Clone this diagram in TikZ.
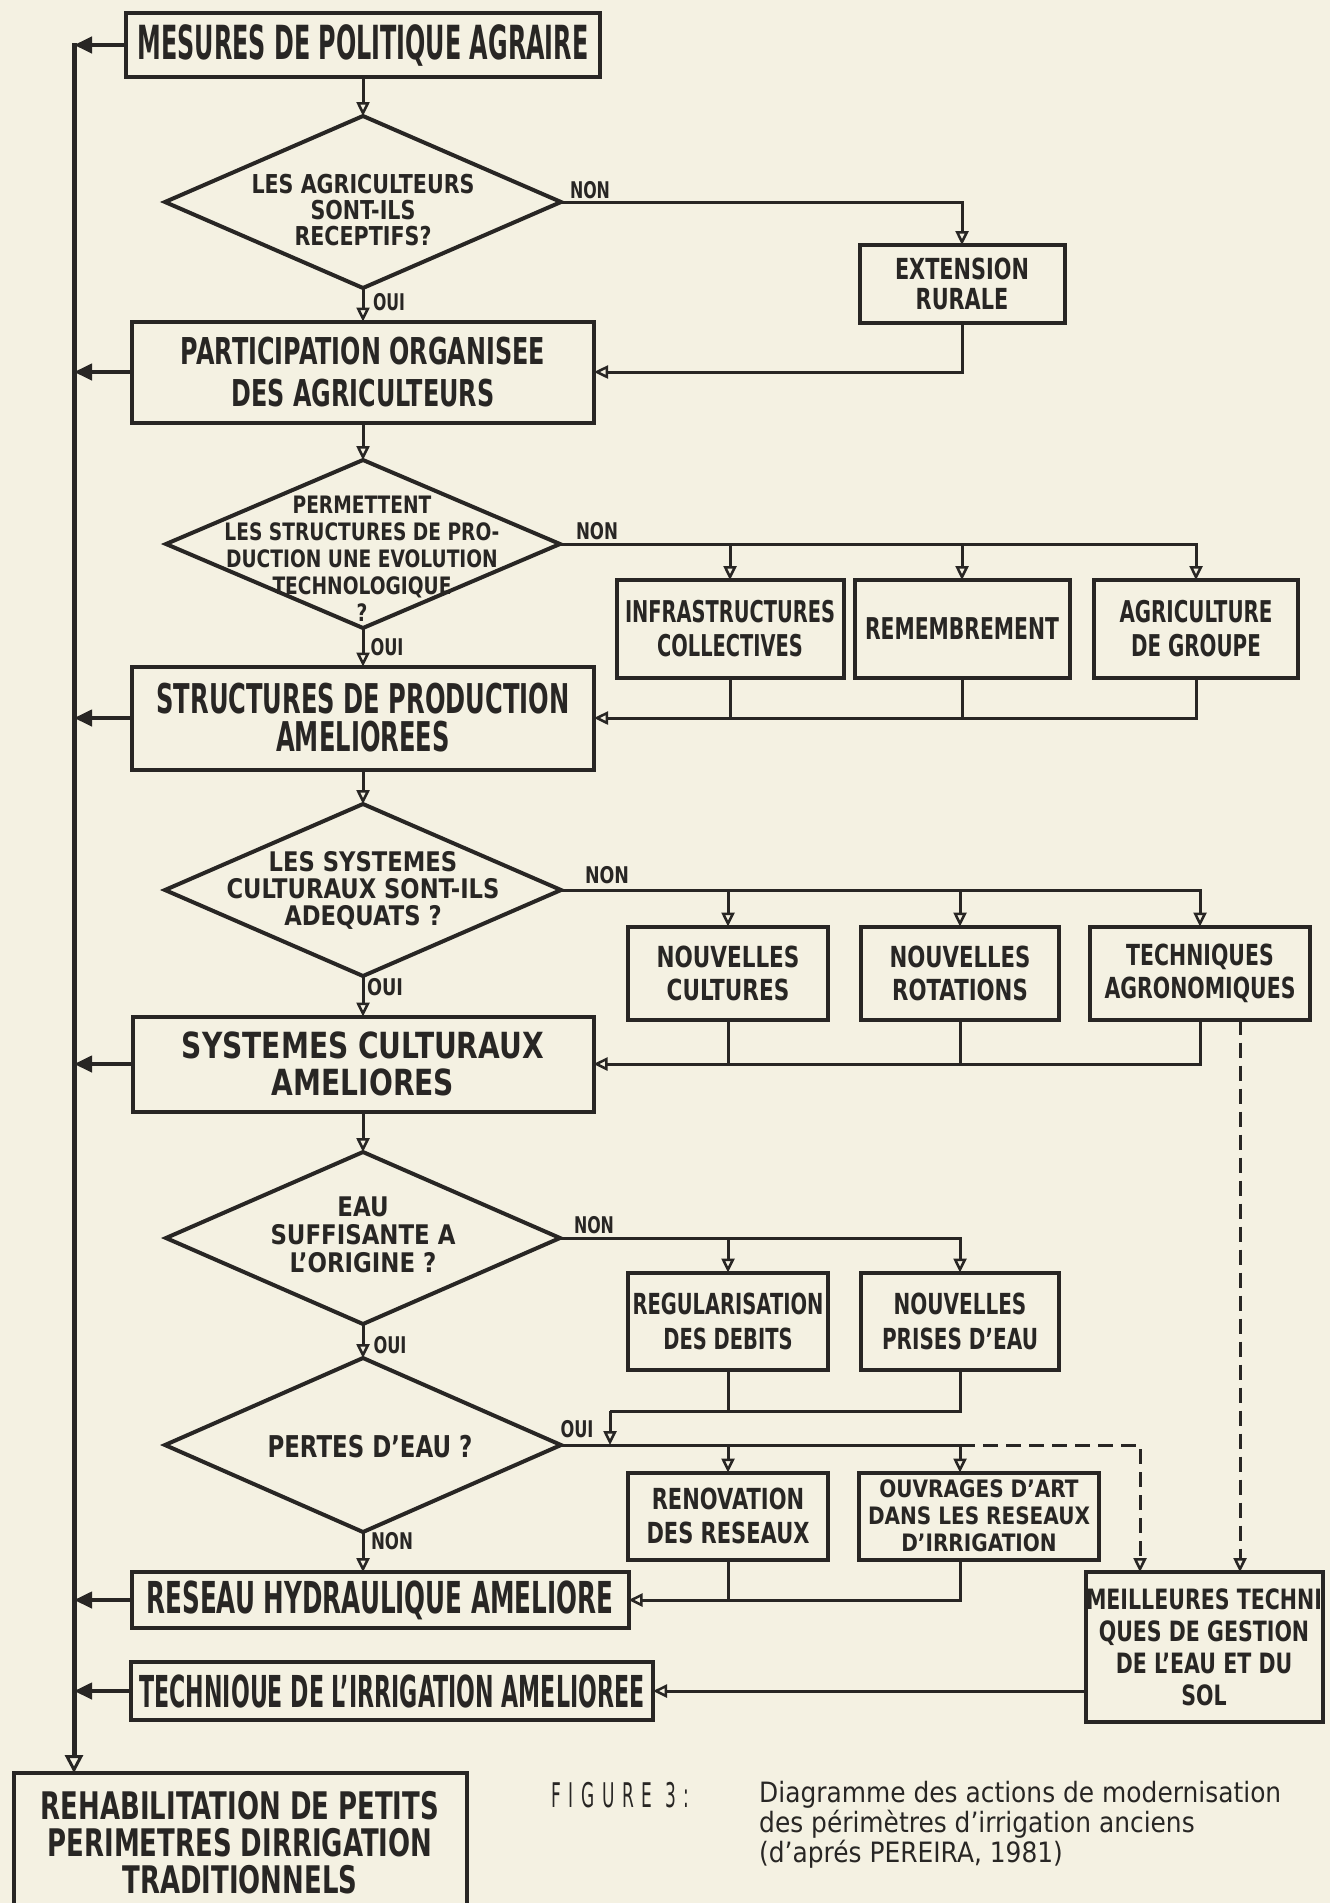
\documentclass[tikz,border=0pt]{standalone}
\usepackage{fontspec}
\setmainfont{DejaVu Sans}
\usepackage{graphicx}
\usetikzlibrary{shapes.geometric,arrows.meta}
\definecolor{paper}{RGB}{244,241,226}
\definecolor{ink}{RGB}{40,38,36}
% width, size, baselineskip, lines (centred, bold caps)
\newcommand\txl[4]{\resizebox{#1pt}{\height}{\fontsize{#2}{#3}\selectfont\bfseries\vbox{\lineskiplimit=-100pt\halign{\hfil##\hfil\cr#4\crcr}}}}
% caption lines (left aligned, regular)
\newcommand\capl[4]{\resizebox{#1pt}{\height}{\fontsize{#2}{#3}\selectfont\vbox{\lineskiplimit=-100pt\halign{##\hfil\cr#4\crcr}}}}
\tikzset{
  box/.style={rectangle, draw=ink, line width=4pt, inner sep=0pt, outer sep=0pt, text=ink},
  dia/.style={diamond, draw=ink, line width=4pt, inner sep=0pt, outer sep=0pt},
  dtxt/.style={inner sep=0pt, text=ink},
  lbl/.style={inner sep=0pt, text=ink},
  conn/.style={draw=ink, line width=3pt},
  arr/.style={conn, -{Triangle[open, length=14pt, width=13pt, line width=2.5pt]}},
  larr/.style={draw=ink, line width=4pt, -{Triangle[length=18pt, width=16pt]}},
  dconn/.style={conn, dash pattern=on 15pt off 8pt},
  darr/.style={dconn, -{Triangle[open, length=14pt, width=13pt, line width=2.5pt]}},
  mainl/.style={draw=ink, line width=5pt, -{Triangle[open, length=18pt, width=18pt, line width=3pt]}},
}
\begin{document}
\begin{tikzpicture}[x=1pt, y=-1pt]
\useasboundingbox (0,0) rectangle (1330,1903);
\clip (0,0) rectangle (1330,1903);
\fill[paper] (0,0) rectangle (1330,1903);

% main column
\node[box, minimum width=474pt, minimum height=64pt] (mes) at (363,45) {\txl{451}{47}{50}{MESURES DE POLITIQUE AGRAIRE}};
\node[dia, minimum width=396pt, minimum height=172pt] (d1) at (363,202) {};
\node[dtxt] (d1t) at (363,210) {\txl{223}{26}{26}{LES AGRICULTEURS\cr SONT-ILS\cr RECEPTIFS?}};
\node[box, minimum width=462pt, minimum height=101pt] (part) at (363,372) {\txl{364}{37}{42}{PARTICIPATION ORGANISEE\cr DES AGRICULTEURS}};
\node[dia, minimum width=394pt, minimum height=168pt] (d2) at (363,544) {};
\node[dtxt] (d2t) at (362,559) {\txl{275}{24}{27}{PERMETTENT\cr LES STRUCTURES DE PRO-\cr DUCTION UNE EVOLUTION\cr TECHNOLOGIQUE\cr ?}};
\node[box, minimum width=462pt, minimum height=103pt] (struct) at (363,718) {\txl{413}{41}{38}{STRUCTURES DE PRODUCTION\cr AMELIOREES}};
\node[dia, minimum width=396pt, minimum height=172pt] (d3) at (363,890) {};
\node[dtxt] (d3t) at (363,890) {\txl{273}{27}{27}{LES SYSTEMES\cr CULTURAUX SONT-ILS\cr ADEQUATS ?}};
\node[box, minimum width=461pt, minimum height=95pt] (sysc) at (363,1064) {\txl{362}{36}{37}{SYSTEMES CULTURAUX\cr AMELIORES}};
\node[dia, minimum width=394pt, minimum height=172pt] (d4) at (363,1238) {};
\node[dtxt] (d4t) at (363,1235) {\txl{185}{27}{28}{EAU\cr SUFFISANTE A\cr L'ORIGINE ?}};
\node[dia, minimum width=396pt, minimum height=174pt] (d5) at (363,1445) {};
\node[dtxt] (d5t) at (370,1447) {\txl{205}{30}{30}{PERTES D'EAU ?}};
\node[box, minimum width=497pt, minimum height=56pt] (reseau) at (380,1600) {\txl{467}{44}{44}{RESEAU HYDRAULIQUE AMELIORE}};
\node[box, minimum width=522pt, minimum height=58pt] (techirr) at (392,1691) {\txl{505}{44}{44}{TECHNIOUE DE L'IRRIGATION AMELIOREE}};
\node[box, minimum width=453pt, minimum height=140pt] (rehab) at (240,1843) {\txl{398}{38}{37}{REHABILITATION DE PETITS\cr PERIMETRES DIRRIGATION\cr TRADITIONNELS}};

% right side boxes
\node[box, minimum width=205pt, minimum height=78pt] (ext) at (962,284) {\txl{134}{29}{30}{EXTENSION\cr RURALE}};
\node[box, minimum width=227pt, minimum height=98pt] (infra) at (730,629) {\txl{210}{30}{34}{INFRASTRUCTURES\cr COLLECTIVES}};
\node[box, minimum width=215pt, minimum height=98pt] (remem) at (962,629) {\txl{194}{30}{30}{REMEMBREMENT}};
\node[box, minimum width=204pt, minimum height=98pt] (agri) at (1196,629) {\txl{153}{30}{34}{AGRICULTURE\cr DE GROUPE}};
\node[box, minimum width=200pt, minimum height=93pt] (ncult) at (728,973) {\txl{143}{29}{33}{NOUVELLES\cr CULTURES}};
\node[box, minimum width=198pt, minimum height=93pt] (nrot) at (960,973) {\txl{141}{29}{33}{NOUVELLES\cr ROTATIONS}};
\node[box, minimum width=220pt, minimum height=93pt] (techag) at (1200,973) {\txl{191}{29}{33}{TECHNIQUES\cr AGRONOMIQUES}};
\node[box, minimum width=200pt, minimum height=97pt] (reg) at (728,1321) {\txl{191}{29}{35}{REGULARISATION\cr DES DEBITS}};
\node[box, minimum width=198pt, minimum height=97pt] (npe) at (960,1321) {\txl{156}{29}{35}{NOUVELLES\cr PRISES D'EAU}};
\node[box, minimum width=200pt, minimum height=87pt] (renov) at (728,1516) {\txl{163}{29}{34}{RENOVATION\cr DES RESEAUX}};
\node[box, minimum width=240pt, minimum height=87pt] (ouvr) at (979,1516) {\txl{222}{24}{27}{OUVRAGES D'ART\cr DANS LES RESEAUX\cr D'IRRIGATION}};
\node[box, minimum width=237pt, minimum height=150pt] (meill) at (1204,1647) {\txl{236}{28}{32}{MEILLEURES TECHNI\cr QUES DE GESTION\cr DE L'EAU ET DU\cr SOL}};

% labels
\node[lbl] (n1) at (590,190) {\txl{40}{23}{23}{NON}};
\node[lbl] (o1) at (389,302) {\txl{32}{23}{23}{OUI}};
\node[lbl] (n2) at (597,531) {\txl{42}{23}{23}{NON}};
\node[lbl] (o2) at (387,647) {\txl{33}{23}{23}{OUI}};
\node[lbl] (n3) at (607,875) {\txl{44}{23}{23}{NON}};
\node[lbl] (o3) at (385,987) {\txl{36}{23}{23}{OUI}};
\node[lbl] (n4) at (594,1225) {\txl{40}{23}{23}{NON}};
\node[lbl] (o4) at (390,1345) {\txl{33}{23}{23}{OUI}};
\node[lbl] (o5) at (577,1429) {\txl{33}{23}{23}{OUI}};
\node[lbl] (n5) at (392,1541) {\txl{42}{23}{23}{NON}};

% caption
\node[anchor=west, inner sep=0pt, text=ink] (fig) at (551,1795) {\scalebox{0.5}[1]{\fontsize{34}{34}\selectfont\addfontfeature{LetterSpace=45}FIGURE 3:}};
\node[anchor=north west, inner sep=0pt, text=ink] (cap) at (759,1781) {\capl{522}{28}{30}{Diagramme des actions de modernisation\cr des périmètres d'irrigation anciens\cr (d'aprés PEREIRA, 1981)}};

% main vertical flow
\draw[arr] (mes.south) -- (d1.north);
\draw[arr] (d1.south) -- (part.north);
\draw[arr] (part.south) -- (d2.north);
\draw[arr] (d2.south) -- (struct.north);
\draw[arr] (struct.south) -- (d3.north);
\draw[arr] (d3.south) -- (sysc.north);
\draw[arr] (sysc.south) -- (d4.north);
\draw[arr] (d4.south) -- (d5.north);
\draw[arr] (d5.south) -- (d5.south |- reseau.north);

% left collector line
\coordinate (Lt) at (74,43);
\draw[mainl] (Lt) -- (Lt |- rehab.north);
\draw[larr] (mes.west) -- (mes.west -| Lt);
\draw[larr] (part.west) -- (part.west -| Lt);
\draw[larr] (struct.west) -- (struct.west -| Lt);
\draw[larr] (sysc.west) -- (sysc.west -| Lt);
\draw[larr] (reseau.west) -- (reseau.west -| Lt);
\draw[larr] (techirr.west) -- (techirr.west -| Lt);

% extension rurale
\draw[arr] (d1.east) -| (ext.north);
\draw[arr] (ext.south) |- (part.east);

% production structures
\draw[arr] (d2.east) -| (agri.north);
\draw[arr] (infra.north |- d2.east) -- (infra.north);
\draw[arr] (remem.north |- d2.east) -- (remem.north);
\draw[conn] (infra.south) -- (infra.south |- struct.east);
\draw[conn] (remem.south) -- (remem.south |- struct.east);
\draw[arr] (agri.south) |- (struct.east);

% cropping systems
\draw[arr] (d3.east) -| (techag.north);
\draw[arr] (ncult.north |- d3.east) -- (ncult.north);
\draw[arr] (nrot.north |- d3.east) -- (nrot.north);
\draw[conn] (ncult.south) -- (ncult.south |- sysc.east);
\draw[conn] (nrot.south) -- (nrot.south |- sysc.east);
\draw[arr] (techag.south) |- (sysc.east);
\coordinate (T) at ([xshift=40pt]techag.south);
\draw[darr] (T) -- (T |- meill.north);

% water supply
\draw[arr] (d4.east) -| (npe.north);
\draw[arr] (reg.north |- d4.east) -- (reg.north);
\coordinate (J) at (610,1411);
\draw[conn] (reg.south) -- (reg.south |- J);
\draw[conn] (npe.south) |- (J);
\draw[arr] (J) -- (J |- d5.east);

% water losses
\coordinate (ou) at (npe.center |- d5.east);
\coordinate (K) at (1140,1445);
\draw[conn] (d5.east) -- (ou);
\draw[arr] (renov.north |- d5.east) -- (renov.north);
\draw[arr] (ou) -- (ou |- ouvr.north);
\draw[darr] (ou) -- (K) -- (K |- meill.north);
\draw[conn] (renov.south) -- (renov.south |- reseau.east);
\draw[arr] (ou |- ouvr.south) |- (reseau.east);
\draw[arr] (meill.west |- techirr.east) -- (techirr.east);
\end{tikzpicture}
\end{document}
